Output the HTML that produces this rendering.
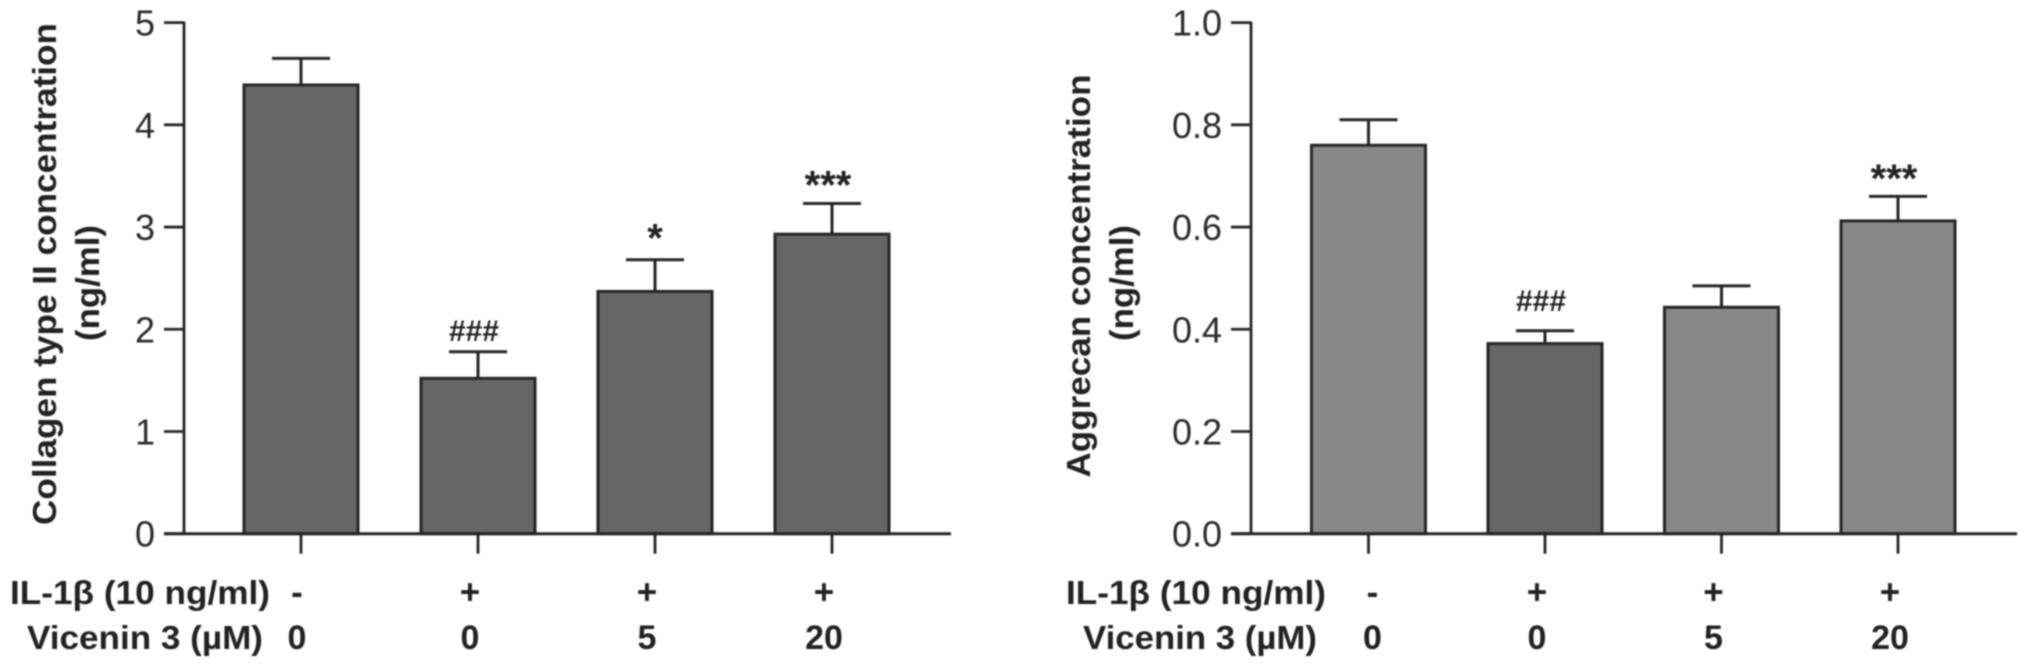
<!DOCTYPE html>
<html lang="en">
<head>
<meta charset="utf-8">
<title>Collagen type II and Aggrecan concentration</title>
<style>
html,body{margin:0;padding:0;background:#fff;width:2031px;height:669px;overflow:hidden}
svg{display:block;font-family:"Liberation Sans",sans-serif}
</style>
</head>
<body>
<svg id="chart" xmlns="http://www.w3.org/2000/svg" width="2031" height="669" viewBox="0 0 2031 669">
  <g id="root" style="filter:blur(0.7px)">
    <g font-weight="700" font-size="33" fill="#222" text-anchor="middle">
      <text transform="translate(56,274) rotate(-90)" textLength="502" lengthAdjust="spacingAndGlyphs">Collagen type II concentration</text>
      <text transform="translate(99,283) rotate(-90)" textLength="116" lengthAdjust="spacingAndGlyphs">(ng/ml)</text>
    </g>
    <g font-weight="700" font-size="33" fill="#222" text-anchor="middle">
      <text transform="translate(1090,276) rotate(-90)" textLength="403" lengthAdjust="spacingAndGlyphs">Aggrecan concentration</text>
      <text transform="translate(1133,283) rotate(-90)" textLength="116" lengthAdjust="spacingAndGlyphs">(ng/ml)</text>
    </g>
    <g font-weight="700" font-size="33" fill="#222">
      <text x="10" y="604" textLength="260" lengthAdjust="spacingAndGlyphs">IL-1β (10 ng/ml)</text>
      <text x="27" y="649" textLength="236" lengthAdjust="spacingAndGlyphs">Vicenin 3 (µM)</text>
    </g>
    <g font-weight="700" font-size="33" fill="#222">
      <text x="1066" y="604" textLength="260" lengthAdjust="spacingAndGlyphs">IL-1β (10 ng/ml)</text>
      <text x="1083" y="649" textLength="234" lengthAdjust="spacingAndGlyphs">Vicenin 3 (µM)</text>
    </g>
  </g>
</svg>
<script>
const il1bRow = ['-', '+', '+', '+'];
const viceninRow = ['0', '0', '5', '20'];

const collagenValues = [4.39, 1.52, 2.37, 2.93];
const collagenErrors = [0.26, 0.26, 0.31, 0.30];
const collagenTicks = ['0', '1', '2', '3', '4', '5'];
const collagenMarks = ['', '###', '*', '***'];
const collagenMarkLevels = [0, 1.885, 2.76, 3.28];

const aggrecanValues = [0.76, 0.372, 0.443, 0.612];
const aggrecanErrors = [0.05, 0.025, 0.042, 0.048];
const aggrecanTicks = ['0.0', '0.2', '0.4', '0.6', '0.8', '1.0'];
const aggrecanMarks = ['', '###', '', '***'];
const aggrecanMarkLevels = [0, 0.436, 0, 0.669];

const SVGNS = 'http://www.w3.org/2000/svg';
const root = document.getElementById('root');
const INK = '#262626';

function mk(parent, tag, attrs, text) {
  const el = document.createElementNS(SVGNS, tag);
  for (const k in attrs) el.setAttribute(k, attrs[k]);
  if (text !== undefined) el.textContent = text;
  parent.appendChild(el);
  return el;
}

function line(parent, x1, y1, x2, y2, w) {
  return mk(parent, 'line', { x1: x1, y1: y1, x2: x2, y2: y2, stroke: INK, 'stroke-width': w });
}

function drawPanel(p) {
  const y = v => p.y0 - (v / p.max) * (p.y0 - p.yTop);
  const x = i => p.x0 + i * p.step;

  const g = mk(root, 'g', {});
  
  

  p.values.forEach((v, i) => {
    const top = y(v + p.errors[i]);
    const errLine = line(g, x(i), top, x(i), y(v), 3);
    
    
    const cap = line(g, x(i) - 29, top, x(i) + 29, top, 3);
    
    
    const bar = mk(g, 'rect', {
      x: x(i) - 57, y: y(v), width: 114, height: p.y0 - y(v),
      fill: p.fills[i], stroke: '#262626', 'stroke-width': 3
    });
    
    
  });

  const yAxis = line(g, p.axisX, p.yTop - 1, p.axisX, p.y0, 2.8);
  
  
  const xAxis = line(g, p.axisX - 20, p.y0, p.axisEnd, p.y0, 3);
  
  

  p.ticks.forEach((t, i) => {
    const v = parseFloat(t);
    const tick = line(g, p.axisX - 20, y(v), p.axisX, y(v), 2.8);
    
    
    const label = mk(g, 'text', {
      x: p.axisX - 29, y: y(v) + 13, 'text-anchor': 'end',
      'font-size': 36, fill: '#2b2b2b'
    }, t);
    
    
  });

  p.values.forEach((v, i) => {
    const tick = line(g, x(i), p.y0, x(i), p.y0 + 20, 2.8);
    
    
    const off = i === 0 ? p.firstOffset : -8;
    const a = mk(g, 'text', {
      x: x(i) + off, y: 604, 'text-anchor': 'middle',
      'font-size': 35, 'font-weight': 700, fill: '#222'
    }, il1bRow[i]);
    
    
    const b = mk(g, 'text', {
      x: x(i) + off, y: 649, 'text-anchor': 'middle',
      'font-size': 34, 'font-weight': 700, fill: '#222'
    }, viceninRow[i]);
    
    
    if (p.marks[i]) {
      const hash = p.marks[i][0] === '#';
      const m = mk(g, 'text', {
        x: x(i) - (p.marks[i].length === 1 ? 0 : 4), y: y(p.markLevels[i]), 'text-anchor': 'middle',
        'font-size': hash ? 30 : 40, fill: '#222',
        'font-weight': 700
      }, p.marks[i]);
      
      
    }
  });
}

drawPanel({
  id: 'collagen', values: collagenValues, errors: collagenErrors, ticks: collagenTicks,
  marks: collagenMarks, markLevels: collagenMarkLevels, max: 5,
  fills: ['#666666', '#666666', '#666666', '#666666'],
  axisX: 184, axisEnd: 951, y0: 533.7, yTop: 22.6, x0: 301, step: 177, firstOffset: -4
});

drawPanel({
  id: 'aggrecan', values: aggrecanValues, errors: aggrecanErrors, ticks: aggrecanTicks,
  marks: aggrecanMarks, markLevels: aggrecanMarkLevels, max: 1,
  fills: ['#888888', '#666666', '#888888', '#888888'],
  axisX: 1251, axisEnd: 2017, y0: 533.7, yTop: 22.6, x0: 1368.5, step: 176.5, firstOffset: 4
});
</script>
</body>
</html>
